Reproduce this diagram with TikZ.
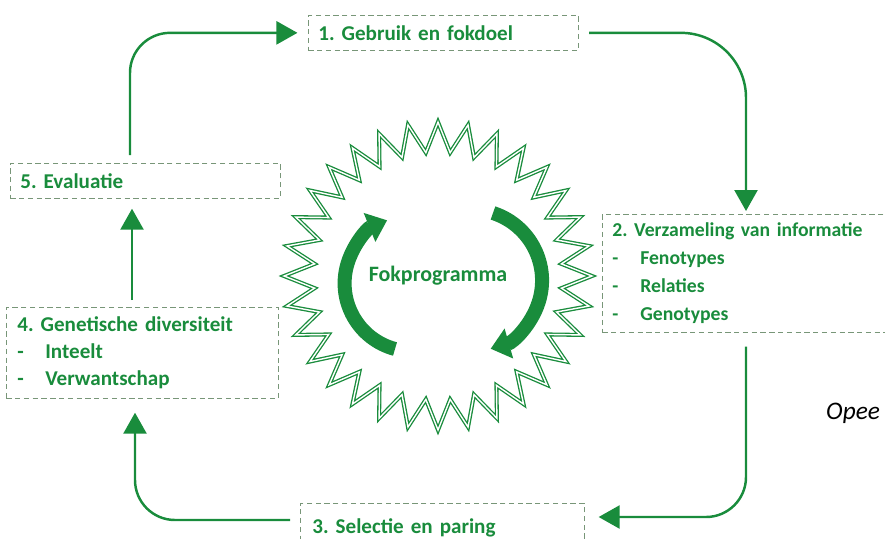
\documentclass[tikz,border=0pt]{standalone}
\usepackage{fontspec}
\setmainfont{Carlito}
\usetikzlibrary{arrows.meta,shapes.geometric,calc}

\definecolor{fok}{RGB}{25,140,60}
\definecolor{rand}{RGB}{120,150,120}

\tikzset{
	stap/.style={draw=rand, thin, densely dashed, anchor=north west, align=left,
		text=fok, font=\fontsize{12}{15.5}\selectfont\bfseries, inner xsep=0.2cm, inner ysep=0.1cm},
	flow/.style={draw=fok, line width=1.4pt, rounded corners=0.8cm,
		-{Triangle[length=0.42cm, width=0.46cm]}},
	cyclus/.style={draw=fok, line width=0.28cm,
		-{Triangle[length=0.38cm, width=0.6cm]}},
}

\newcommand{\punt}[1]{\makebox[0.56cm][l]{-}#1}

\begin{document}
\frenchspacing
\begin{tikzpicture}[x=0.02cm, y=-0.02cm]

	%%% Canvas
	\useasboundingbox (0,0) rectangle (885,538);

	%%% Steps
	\node[stap, minimum width=5.4cm, minimum height=0.7cm, text width=5cm] (gebruik) at (308,15)
		{1. Gebruik en fokdoel};
	\node[stap, minimum width=6.2cm, minimum height=2.36cm, text width=5.8cm,
		font=\fontsize{11.2}{16}\selectfont\bfseries] (info) at (602,214)
		{2. Verzameling van informatie\\ \punt{Fenotypes}\\ \punt{Relaties}\\ \punt{Genotypes}};
	\node[stap, minimum width=5.68cm, minimum height=1.0cm, text width=5.2cm] (selectie) at (300,503)
		{3. Selectie en paring};
	\node[stap, minimum width=5.44cm, minimum height=1.82cm, text width=5cm] (divers) at (6,307)
		{4. Genetische diversiteit\\ \punt{Inteelt}\\ \punt{Verwantschap}};
	\node[stap, minimum width=5.36cm, minimum height=0.7cm, text width=5cm] (evaluatie) at (10,163)
		{5. Evaluatie};

	%%% Cycle
	\coordinate (top5) at ($(evaluatie.north west)+(120,-8)$);
	\draw[flow] (top5) |- ([xshift=-6]gebruik.west);

	\coordinate (top2) at ($(info.north west)+(144,-3)$);
	\draw[flow, rounded corners=1.3cm] ([xshift=6]gebruik.east) -| (top2);

	\coordinate (bot2) at ($(info.south west)+(144,14)$);
	\coordinate (oost3) at ($(selectie.north east)+(14,14)$);
	\draw[flow] (bot2) |- (oost3);

	\coordinate (west3) at ($(selectie.north west)+(-10,17)$);
	\coordinate (bot4) at ($(divers.south west)+(129,14)$);
	\draw[flow] (west3) -| (bot4);

	\coordinate (top4) at ($(divers.north west)+(126,-7)$);
	\draw[flow] (top4) -- ($(evaluatie.south west)+(122,10)$);

	%%% Programme
	\node[star, star points=32, star point height=0.6cm, minimum size=6.16cm,
		draw=fok, line width=0.75pt, double=white, double distance=0.8pt,
		text=fok, font=\fontsize{12.5}{14}\selectfont] (programma) at (438,276) {\textbf{Fokprogramma}};

	\draw[cyclus] (395,349) arc[start angle=255, end angle=112, radius=1.36cm];
	\draw[cyclus] (493,213) arc[start angle=72, end angle=-74, radius=1.42cm];

	%%% Caption
	\node[anchor=west, font=\Large\itshape] (bron) at (820,413) {Opee};

\end{tikzpicture}
\end{document}
